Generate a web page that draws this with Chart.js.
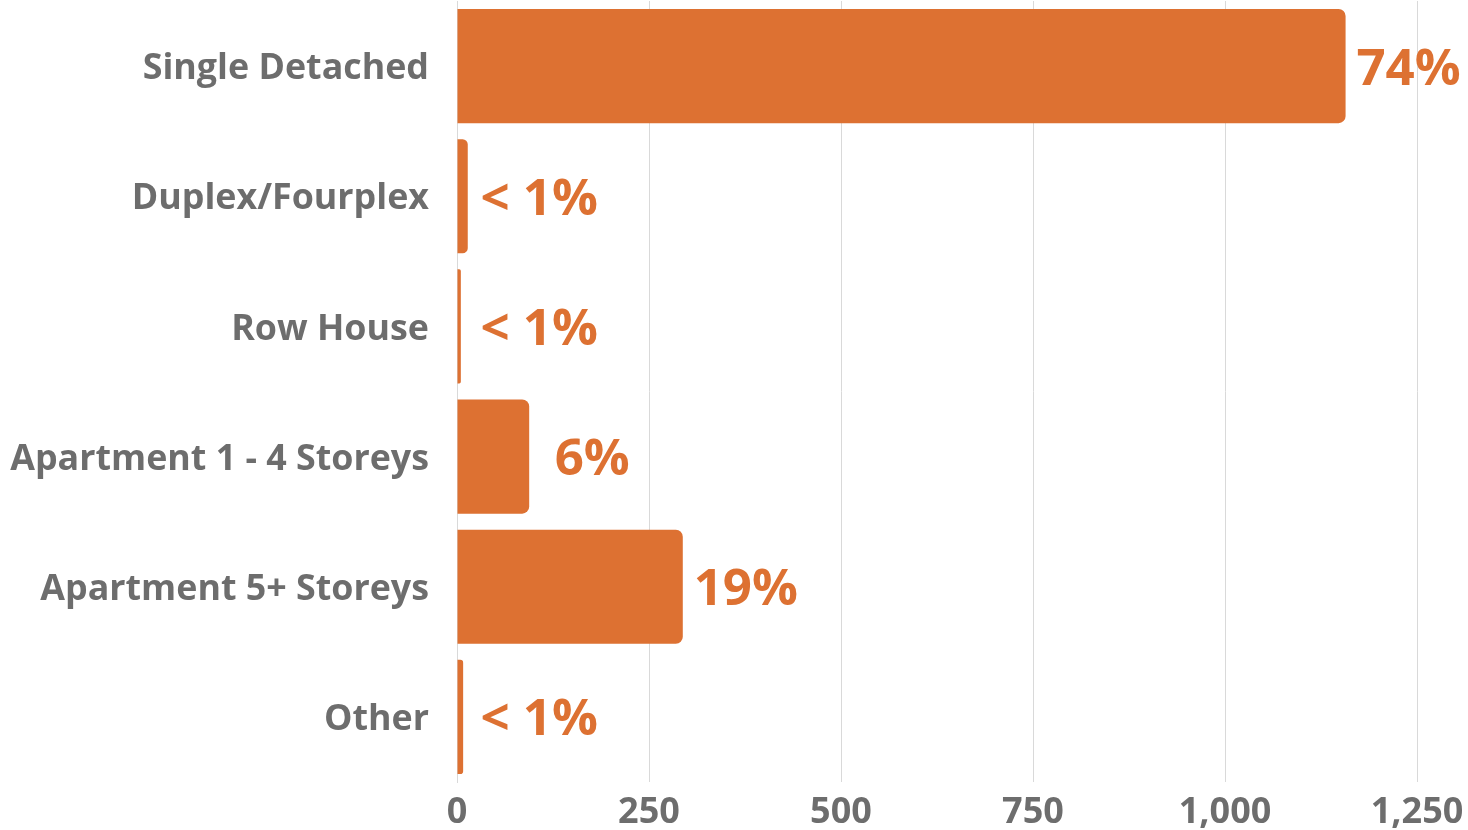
<!DOCTYPE html>
<html>
<head>
<meta charset="utf-8">
<script src="https://cdn.jsdelivr.net/npm/chart.js@4"></script>
<style>
  html, body { margin: 0; padding: 0; background: #fff; overflow: hidden; }
  #wrap { width: 1468px; height: 830px; }
</style>
</head>
<body>
<div id="wrap"><canvas id="dwelling-chart"></canvas></div>
<script>
// ====== DATA ======
const categories = ['Single Detached', 'Duplex/Fourplex', 'Row House', 'Apartment 1 - 4 Storeys', 'Apartment 5+ Storeys', 'Other'];
const dwellingCounts = [1157, 14, 5, 94, 294, 8];
const shareLabels = ['74%', '< 1%', '< 1%', '6%', '19%', '< 1%'];
const xTicks = [0, 250, 500, 750, 1000, 1250];

const ORANGE = '#dd7132';
const GREY_TEXT = '#6d6d6d';
const GRID = '#d9d9d9';

// draws the % share next to each bar
const shareLabelPlugin = {
  id: 'shareLabels',
  afterDatasetsDraw(chart) {
    const ctx = chart.ctx;
    const xScale = chart.scales.x;
    const meta = chart.getDatasetMeta(0);
    ctx.save();
    ctx.font = 'bold 51px "Open Sans"';
    ctx.fillStyle = ORANGE;
    ctx.textAlign = 'center';
    ctx.textBaseline = 'middle';
    meta.data.forEach((bar, i) => {
      // tiny bars share a common label position
      const anchor = xScale.getPixelForValue(Math.max(dwellingCounts[i], 25));
      ctx.fillText(shareLabels[i], anchor + 63, bar.y + 4);
    });
    ctx.restore();
  }
};

function noScalePadding(axis) {
  axis.paddingTop = 0;
  axis.paddingBottom = 0;
  axis.paddingLeft = 0;
  axis.paddingRight = 0;
}

function drawChart() {
  const ctx = document.getElementById('dwelling-chart').getContext('2d');
  new Chart(ctx, {
    type: 'bar',
    data: {
      labels: categories,
      datasets: [{
        data: dwellingCounts,
        backgroundColor: ORANGE,
        borderRadius: 7,
        borderSkipped: 'start',
        barPercentage: 0.877,
        categoryPercentage: 1
      }]
    },
    options: {
      indexAxis: 'y',
      responsive: true,
      maintainAspectRatio: false,
      animation: false,
      layout: { padding: { top: 1, right: 51, bottom: 0, left: 0 } },
      plugins: {
        legend: { display: false },
        tooltip: { enabled: false }
      },
      scales: {
        x: {
          min: 0,
          max: 1250,
          afterBuildTicks(axis) {
            axis.ticks = xTicks.map(v => ({ value: v }));
          },
          afterFit(axis) {
            noScalePadding(axis);
            axis.height = 48;
          },
          grid: { color: GRID, drawTicks: false, lineWidth: 1 },
          border: { display: false },
          ticks: {
            padding: 13,
            color: GREY_TEXT,
            font: { family: '"Open Sans"', weight: 'bold', size: 36, lineHeight: 1 },
            maxRotation: 0,
            callback: v => v.toLocaleString('en-US')
          }
        },
        y: {
          afterFit(axis) {
            noScalePadding(axis);
            axis.width = 457;
          },
          grid: { display: false, drawTicks: false },
          border: { display: true, color: GRID },
          ticks: {
            padding: 28,
            labelOffset: 3,
            color: GREY_TEXT,
            font: { family: '"Open Sans"', weight: 'bold', size: 35.8 }
          }
        }
      }
    },
    plugins: [shareLabelPlugin]
  });
}

Promise.all([
  document.fonts.load('bold 36px "Open Sans"'),
  document.fonts.load('bold 51px "Open Sans"')
]).then(drawChart, drawChart);
</script>
</body>
</html>
